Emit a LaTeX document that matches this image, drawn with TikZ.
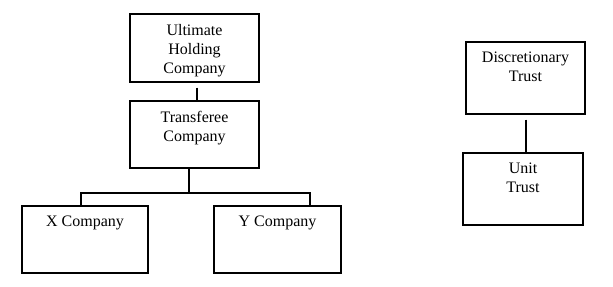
\documentclass[tikz,border=0pt]{standalone}
\usepackage{fontspec}
\setmainfont{Liberation Serif}

\begin{document}
\begin{tikzpicture}[x=0.75pt,y=-0.75pt,line width=0.8pt,
  font=\fontsize{12pt}{14.25pt}\selectfont,
  entity/.style n args={3}{draw,minimum width=#1*0.75pt,minimum height=#2*0.75pt,
    label={[anchor=north,align=center,inner sep=0pt,yshift=-7.5pt]north:#3}}]
\useasboundingbox (0,0) rectangle (613,286);
% 公司结构
\node[entity={129}{68}{Ultimate\\Holding\\Company}] (ultimate) at (194.5,48) {};
\node[entity={129}{67}{Transferee\\Company}] (transferee) at (194.5,134.5) {};
\node[entity={126}{67}{X Company}] (xco) at (85,239.5) {};
\node[entity={127}{67}{Y Company}] (yco) at (277.5,239.5) {};
% 信托
\node[entity={119}{72}{Discretionary\\Trust}] (disc) at (525.5,78) {};
\node[entity={120}{72}{Unit\\Trust}] (unit) at (523,189) {};
% 连线
\coordinate (bus) at (189,193);
\draw ([shift={(2.5,5)}]ultimate.south) -- ([shift={(2.5,0)}]transferee.north);
\draw (transferee.south -| bus) -- (bus);
\draw ([shift={(-4,0)}]xco.north) |- (bus) -| ([shift={(32.5,0)}]yco.north);
\draw ([shift={(0.5,5)}]disc.south) -- ([shift={(0.5,0)}]disc.south |- unit.north);
\end{tikzpicture}
\end{document}
